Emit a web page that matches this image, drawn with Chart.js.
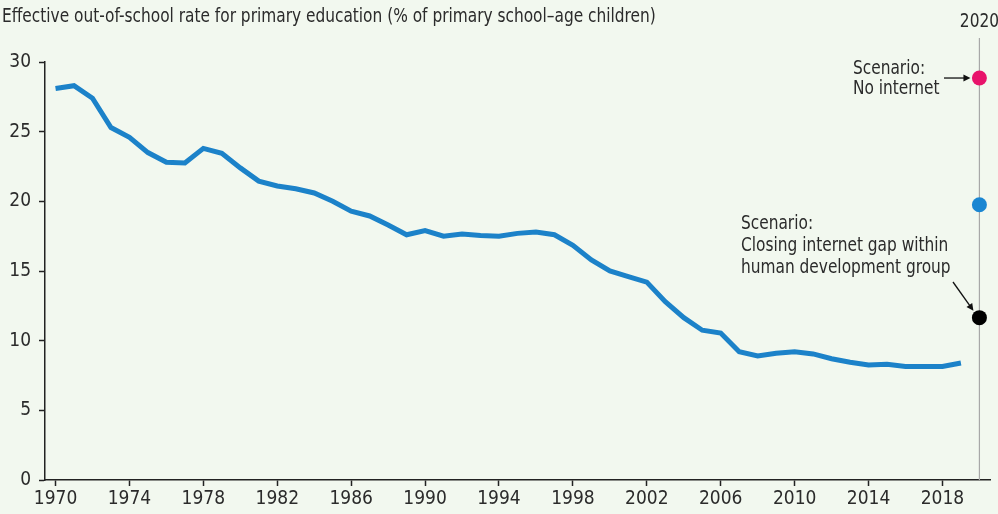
<!DOCTYPE html>
<html>
<head>
<meta charset="utf-8">
<script src="https://cdn.jsdelivr.net/npm/chart.js@4"></script>
<style>
  html, body { margin: 0; padding: 0; background: #f2f8ef; }
  #wrap { width: 998px; height: 514px; }
</style>
</head>
<body>
<div id="wrap"><canvas id="outChart"></canvas></div>
<script>
const years = [1970,1971,1972,1973,1974,1975,1976,1977,1978,1979,
  1980,1981,1982,1983,1984,1985,1986,1987,1988,1989,
  1990,1991,1992,1993,1994,1995,1996,1997,1998,1999,
  2000,2001,2002,2003,2004,2005,2006,2007,2008,2009,
  2010,2011,2012,2013,2014,2015,2016,2017,2018,2019];
const rates = [28.1,28.3,27.4,25.3,24.6,23.5,22.8,22.75,23.8,23.45,
  22.4,21.45,21.1,20.9,20.6,20.0,19.3,18.95,18.3,17.6,
  17.9,17.5,17.65,17.55,17.5,17.7,17.8,17.6,16.85,15.8,
  15.0,14.6,14.2,12.8,11.65,10.75,10.55,9.2,8.9,9.1,
  9.2,9.05,8.7,8.45,8.25,8.3,8.15,8.15,8.15,8.4];
const scenarioYear = 2020;
const scenarioValues = [28.85, 19.75, 11.65];
const scenarioColors = ['#e8136b', '#1a86d2', '#000000'];
const xTicks = [1970,1974,1978,1982,1986,1990,1994,1998,2002,2006,2010,2014,2018];
const yTicks = [0,5,10,15,20,25,30];
const title = 'Effective out-of-school rate for primary education (% of primary school\u2013age children)';

const FONT = '"Liberation Sans Narrow", "DejaVu Sans Condensed", "Roboto", sans-serif';
const TXT = '#2b2b2b';
const SQUEEZE = 0.855;

const lineData = years.map((y, i) => ({ x: y, y: rates[i] }));
const scenarioData = scenarioValues.map(v => ({ x: scenarioYear, y: v }));

// draw text squeezed horizontally to look like a condensed face
function text(ctx, str, x, y, align) {
  ctx.save();
  ctx.translate(x, y);
  ctx.scale(SQUEEZE, 1);
  ctx.textAlign = align || 'left';
  ctx.fillText(str, 0, 0);
  ctx.restore();
}

const annotations = {
  id: 'annotations',
  beforeDatasetsDraw(chart) {
    const { ctx, scales: { x }, chartArea } = chart;
    const px = x.getPixelForValue(scenarioYear);
    ctx.save();
    ctx.strokeStyle = '#a8a8a8';
    ctx.lineWidth = 1.2;
    ctx.beginPath();
    ctx.moveTo(px, 38);
    ctx.lineTo(px, chartArea.bottom);
    ctx.stroke();
    ctx.restore();
  },
  afterDraw(chart) {
    const { ctx, scales: { x, y } } = chart;
    const px = x.getPixelForValue(scenarioYear);
    ctx.save();
    ctx.fillStyle = TXT;
    ctx.font = '20px ' + FONT;
    ctx.textBaseline = 'middle';
    text(ctx, title, 2, 17);
    text(ctx, String(scenarioYear), px, 22, 'center');

    const p1 = y.getPixelForValue(scenarioValues[0]);
    text(ctx, 'Scenario:', 853, 69);
    text(ctx, 'No internet', 853, 89);
    const p3 = y.getPixelForValue(scenarioValues[2]);
    text(ctx, 'Scenario:', 741, 224);
    text(ctx, 'Closing internet gap within', 741, 246);
    text(ctx, 'human development group', 741, 268);

    ctx.strokeStyle = '#111';
    ctx.fillStyle = '#111';
    ctx.lineWidth = 1.3;
    arrow(ctx, 944, p1, px - 9, p1);
    arrow(ctx, 953, 282, px - 6, p3 - 7);
    ctx.restore();
  }
};

function arrow(ctx, x1, y1, x2, y2) {
  const a = Math.atan2(y2 - y1, x2 - x1);
  ctx.beginPath();
  ctx.moveTo(x1, y1);
  ctx.lineTo(x2 - 5 * Math.cos(a), y2 - 5 * Math.sin(a));
  ctx.stroke();
  ctx.beginPath();
  ctx.moveTo(x2, y2);
  ctx.lineTo(x2 - 7 * Math.cos(a) + 3.5 * Math.sin(a), y2 - 7 * Math.sin(a) - 3.5 * Math.cos(a));
  ctx.lineTo(x2 - 7 * Math.cos(a) - 3.5 * Math.sin(a), y2 - 7 * Math.sin(a) + 3.5 * Math.cos(a));
  ctx.closePath();
  ctx.fill();
}

const ctx = document.getElementById('outChart').getContext('2d');
const outChart = new Chart(ctx, {
  type: 'line',
  data: {
    datasets: [{
      data: lineData,
      borderColor: '#1c82c9',
      borderWidth: 5,
      pointRadius: 0,
      tension: 0,
      fill: false
    }, {
      data: scenarioData,
      showLine: false,
      pointRadius: 7.5,
      pointHoverRadius: 7.5,
      pointBorderWidth: 0,
      pointBackgroundColor: scenarioColors,
      pointBorderColor: scenarioColors
    }]
  },
  options: {
    responsive: true,
    maintainAspectRatio: false,
    animation: false,
    layout: { padding: { top: 62, right: 5, left: 0, bottom: 0 } },
    plugins: {
      legend: { display: false },
      tooltip: { enabled: false }
    },
    scales: {
      x: {
        type: 'linear',
        min: 1969.43,
        max: 2020.6,
        afterBuildTicks: (axis) => { axis.ticks = xTicks.map(v => ({ value: v })); },
        afterFit: (axis) => { axis.height = 34; },
        grid: { drawOnChartArea: false, drawTicks: true, tickLength: 6, tickWidth: 1.5, tickColor: '#222' },
        border: { color: '#222', width: 1.5 },
        ticks: {
          color: TXT,
          font: { family: FONT, size: 19 },
          padding: 2,
          maxRotation: 0,
          callback: (v) => String(v)
        }
      },
      y: {
        min: 0,
        max: 30,
        afterBuildTicks: (axis) => { axis.ticks = yTicks.map(v => ({ value: v })); },
        afterFit: (axis) => { axis.width = 45; },
        grid: { drawOnChartArea: false, drawTicks: true, tickLength: 6, tickWidth: 1.5, tickColor: '#222' },
        border: { color: '#222', width: 1.5 },
        ticks: {
          color: TXT,
          font: { family: FONT, size: 19 },
          padding: 8
        }
      }
    }
  },
  plugins: [annotations]
});
</script>
</body>
</html>
